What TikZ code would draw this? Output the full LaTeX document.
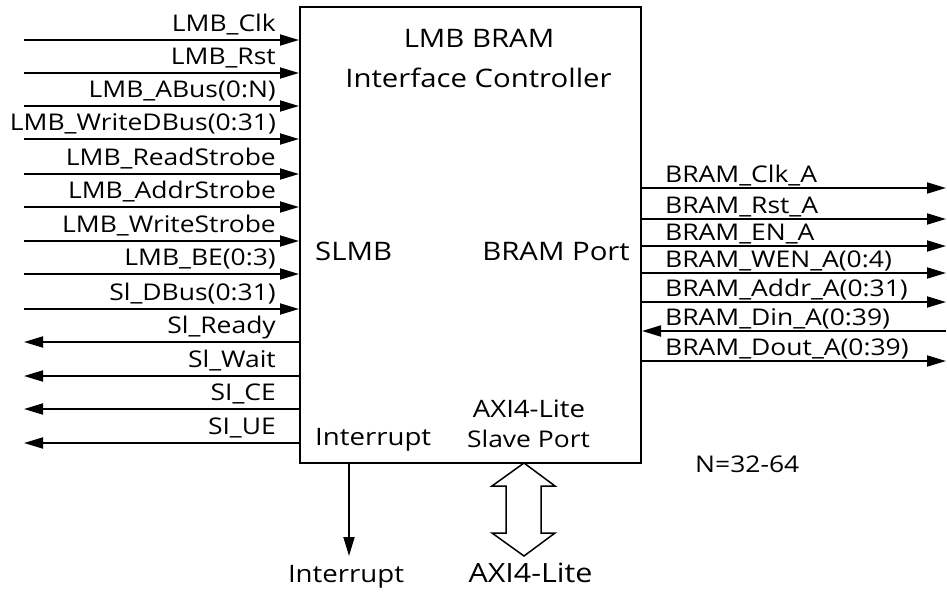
\documentclass[tikz,border=0pt]{standalone}
\usepackage{fontspec}
\setmainfont{Open Sans}[FakeStretch=1.15]
\usetikzlibrary{arrows.meta}
\begin{document}
\begin{tikzpicture}[x=1pt,y=-1pt,
  sig/.style={line width=1.8pt,-{Triangle[length=19pt,width=11pt]}},
  lbl/.style={inner sep=0pt,font=\fontsize{23}{27}\selectfont},
  big/.style={inner sep=0pt,font=\fontsize{25.5}{30}\selectfont},
  mid/.style={inner sep=0pt,font=\fontsize{24}{28}\selectfont},
  blk/.style={draw,line width=2pt,inner sep=0pt,minimum width=341pt,minimum height=456pt}]
\useasboundingbox (0,0) rectangle (947,592);
\node[blk,anchor=north west] (box) at (299,6) {};
% box texts
\node[big,anchor=base] (t1) at (479,47) {LMB BRAM};
\node[big,anchor=base] (t2) at (478.5,87) {Interface Controller};
\node[big,anchor=base west] (slmb) at (315,260) {SLMB};
\node[big,anchor=base east] (bport) at (630,260) {BRAM Port};
\node[mid,anchor=base west] (intin) at (315,445) {Interrupt};
\node[mid,anchor=base] (axa) at (529,417) {AXI4-Lite};
\node[lbl,anchor=base] (axb) at (528.5,447) {Slave Port};
% left inputs
\foreach \i/\y/\t in {1/40/LMB\_Clk,2/73/LMB\_Rst,3/106/LMB\_ABus(0:N),4/139/LMB\_WriteDBus(0:31),
  5/174/LMB\_ReadStrobe,6/207/LMB\_AddrStrobe,7/241/LMB\_WriteStrobe,8/274/LMB\_BE(0:3),9/309/Sl\_DBus(0:31)}{
  \coordinate (L\i) at (24,\y);
  \node[lbl,anchor=base east] (Lt\i) at (276,\y-9) {\t};
  \draw[sig] (L\i) -- (L\i -| box.west);
}
% left outputs
\foreach \i/\y/\t in {10/342/Sl\_Ready,11/376/Sl\_Wait,12/409/SI\_CE,13/443/SI\_UE}{
  \coordinate (L\i) at (24,\y);
  \node[lbl,anchor=base east] (Lt\i) at (276,\y-9) {\t};
  \draw[sig] (L\i -| box.west) -- (L\i);
}
% right outputs
\foreach \i/\y/\t in {1/188/BRAM\_Clk\_A,2/219/BRAM\_Rst\_A,3/246/BRAM\_EN\_A,4/273/BRAM\_WEN\_A(0:4),
  5/302/BRAM\_Addr\_A(0:31),7/361/BRAM\_Dout\_A(0:39)}{
  \coordinate (R\i) at (946,\y);
  \node[lbl,anchor=base west] (Rt\i) at (665,\y-5.5) {\t};
  \draw[sig] (R\i -| box.east) -- (R\i);
}
% right input
\coordinate (R6) at (946,331);
\node[lbl,anchor=base west] (Rt6) at (665,331-5.5) {BRAM\_Din\_A(0:39)};
\draw[sig] (R6) -- (R6 -| box.east);
% interrupt
\coordinate (intend) at (349,556);
\draw[sig] (intend |- box.south) -- (intend);
\node[mid,anchor=base] (intout) at (346,582) {Interrupt};
% AXI double arrow
\draw[line width=1.5pt,line join=miter] (524,463) -- (555,486) -- (541,486) -- (541,533) -- (555,533) -- (524,556)
  -- (492,533) -- (506,533) -- (506,486) -- (492,486) -- cycle;
\node[inner sep=0pt,font=\fontsize{26.5}{31}\selectfont,anchor=base] (axout) at (530.5,582) {AXI4-Lite};
\node[lbl,anchor=base west] (nn) at (695,472) {N=32-64};
\end{tikzpicture}
\end{document}
